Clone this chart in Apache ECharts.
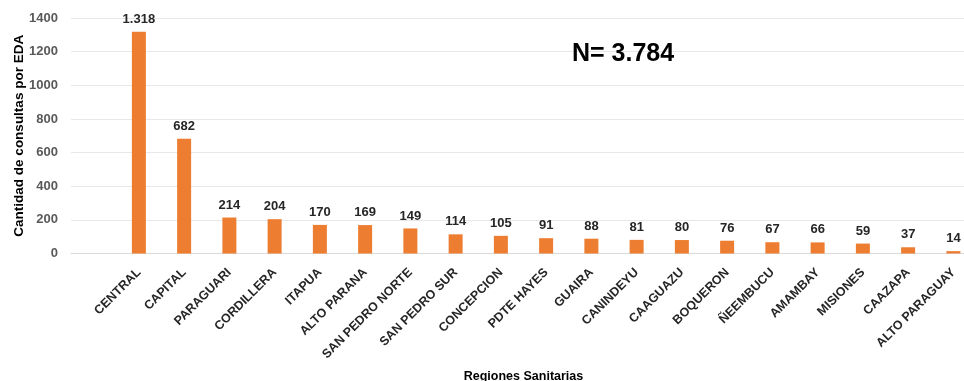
<!DOCTYPE html>
<html>
<head>
<meta charset="utf-8">
<script src="https://cdn.jsdelivr.net/npm/echarts@6/dist/echarts.min.js"></script>
<style>
  html, body { margin: 0; padding: 0; background: #fff; }
  #chart { width: 964px; height: 381px; }
</style>
</head>
<body>
<div id="chart"></div>
<script>
// first slot is the empty category the original sheet leaves before CENTRAL
const regiones = ['', 'CENTRAL', 'CAPITAL', 'PARAGUARI', 'CORDILLERA', 'ITAPUA', 'ALTO PARANA',
    'SAN PEDRO NORTE', 'SAN PEDRO SUR', 'CONCEPCION', 'PDTE HAYES', 'GUAIRA', 'CANINDEYU',
    'CAAGUAZU', 'BOQUERON', 'ÑEEMBUCU', 'AMAMBAY', 'MISIONES', 'CAAZAPA', 'ALTO PARAGUAY'];
const consultas = [null, 1318, 682, 214, 204, 170, 169, 149, 114, 105, 91, 88, 81, 80, 76, 67, 66, 59, 37, 14];
const totalN = '3.784';

const fmt = v => String(v).replace(/\B(?=(\d{3})+(?!\d))/g, '.');

var myChart = echarts.init(document.getElementById('chart'));
const font = 'Liberation Sans, Arial, sans-serif';

const option = {
    animation: false,
    grid: { left: 71, right: -12, top: 18, bottom: 127.5, outerBoundsMode: 'none', containLabel: false },
    xAxis: {
        type: 'category',
        data: regiones,
        name: 'Regiones Sanitarias',
        nameLocation: 'middle',
        nameGap: 117,
        nameMoveOverlap: false,
        nameTextStyle: { fontFamily: font, fontWeight: 'bold', fontSize: 12.5, color: '#000' },
        axisLine: { lineStyle: { color: '#d9d9d9' } },
        axisTick: { show: false },
        axisLabel: {
            interval: 0, rotate: 45, margin: 17,
            fontFamily: font, fontWeight: 'bold', fontSize: 12.5, color: '#262626'
        }
    },
    yAxis: {
        type: 'value',
        min: 0, max: 1400, interval: 200,
        name: 'Cantidad de consultas por EDA',
        nameLocation: 'middle',
        nameRotate: 90,
        nameGap: 45,
        nameMoveOverlap: false,
        nameTextStyle: { fontFamily: font, fontWeight: 'bold', fontSize: 13.5, color: '#000' },
        axisLabel: {
            margin: 13, fontFamily: font, fontWeight: 'bold', fontSize: 13, color: '#595959',
            formatter: v => String(v)
        },
        splitLine: { lineStyle: { color: '#e8e8e8' } }
    },
    series: [{
        type: 'bar',
        data: consultas,
        barWidth: 14,
        itemStyle: { color: '#ED7D31' },
        label: {
            show: true, position: 'top', distance: 6,
            fontFamily: font, fontWeight: 'bold', fontSize: 13, color: '#262626',
            formatter: p => fmt(p.value)
        }
    }],
    graphic: [{
        type: 'text',
        left: 572, top: 42, z: 100,
        style: { text: 'N= ' + totalN, font: 'bold 25px ' + font, fill: '#000' }
    }]
};
myChart.setOption(option);
</script>
</body>
</html>
